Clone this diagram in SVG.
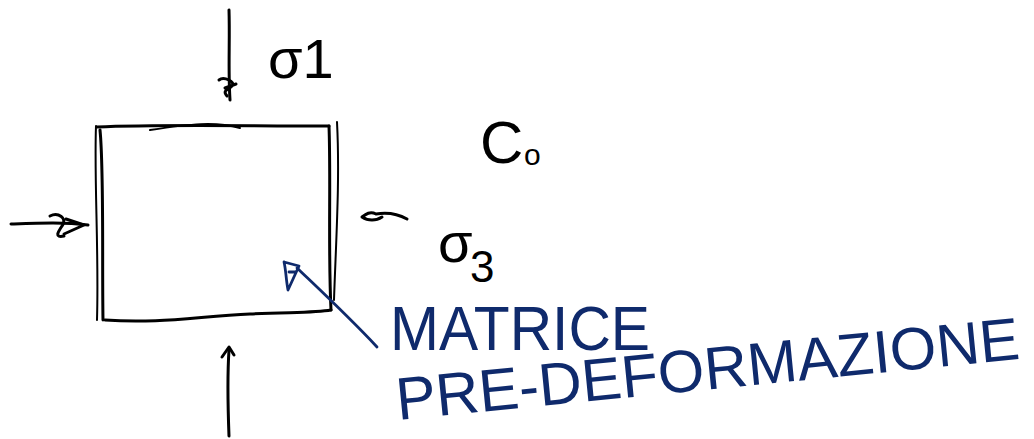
<svg xmlns="http://www.w3.org/2000/svg" width="1034" height="439" viewBox="0 0 1034 439">
<style>
.ink{fill:none;stroke:#000;stroke-width:3;stroke-linecap:round;stroke-linejoin:round}
.thin{fill:none;stroke:#000;stroke-width:2;stroke-linecap:round;stroke-linejoin:round}
.blue{fill:none;stroke:#0f2a6c;stroke-width:2.8;stroke-linecap:round;stroke-linejoin:round}
.lbl{font-family:"Liberation Sans",Arial,sans-serif;fill:#000}
.bl{font-family:"Liberation Sans",Arial,sans-serif;fill:#0f2a6c}
</style>
<rect width="1034" height="439" fill="#fff"/>
<g id="square">
<path class="ink" d="M97,127 C160,124 240,126 329,126"/>
<path class="thin" d="M150,130 C190,124 215,121 240,128"/>
<path class="ink" d="M329,126 C331,180 328,250 331,310"/>
<path class="thin" d="M337,122 C340,180 336,240 334,300"/>
<path class="ink" d="M105,320 C160,324 200,316 250,314 C290,312 315,313 331,310"/>
<path class="ink" d="M100,130 C104,170 102,260 103,320"/>
<path class="thin" d="M96,126 C94,180 99,250 97,320"/>
</g>
<g id="connectors">
<g id="arrow-top">
<path class="ink" d="M229,10 C230,40 228,70 230,100"/>
<path class="ink" d="M219,80 C224,76 236,82 232,86 C228,90 222,90 227,96 M225,88 L236,84"/>
</g>
<g id="arrow-left">
<path class="ink" d="M11,224 C40,223 65,222 88,225"/>
<path class="ink" d="M50,216 C58,212 68,218 62,226 C58,232 54,238 64,236 M66,219 L84,225 L64,234"/>
</g>
<g id="arrow-right">
<path class="ink" d="M407,219 C398,214 388,212 376,214 M376,214 C370,211 366,214 362,217 C368,221 376,221 382,217"/>
</g>
<g id="arrow-bottom">
<path class="ink" d="M229,436 C228,410 227,380 229,350"/>
<path class="ink" d="M222,357 L229,347 L234,355"/>
</g>
<g id="arrow-blue">
<path class="blue" d="M377,347 C350,318 320,290 297,268"/>
<path class="blue" d="M284,262 L299,266 L288,290 C286,280 286,270 284,262 M289,272 L295,272"/>
</g>
</g>
<g id="label-s1">
<text class="lbl" x="268" y="78" font-size="56">σ1</text>
</g>
<g id="label-c0">
<text class="lbl" x="480" y="163" font-size="60">C</text>
<text class="lbl" x="524" y="165" font-size="30">o</text>
</g>
<g id="label-s3">
<text class="lbl" x="438" y="262" font-size="56">σ</text>
<text class="lbl" x="470" y="282" font-size="44">3</text>
</g>
<g id="label-matrice">
<text class="bl" x="0" y="0" font-size="58" textLength="260" lengthAdjust="spacingAndGlyphs" transform="translate(390 350) scale(1 1.1)">MATRICE</text>
<text class="bl" x="0" y="0" font-size="60" textLength="626" lengthAdjust="spacingAndGlyphs" transform="translate(398 420) rotate(-5.6)">PRE-DEFORMAZIONE</text>
</g>
</svg>
